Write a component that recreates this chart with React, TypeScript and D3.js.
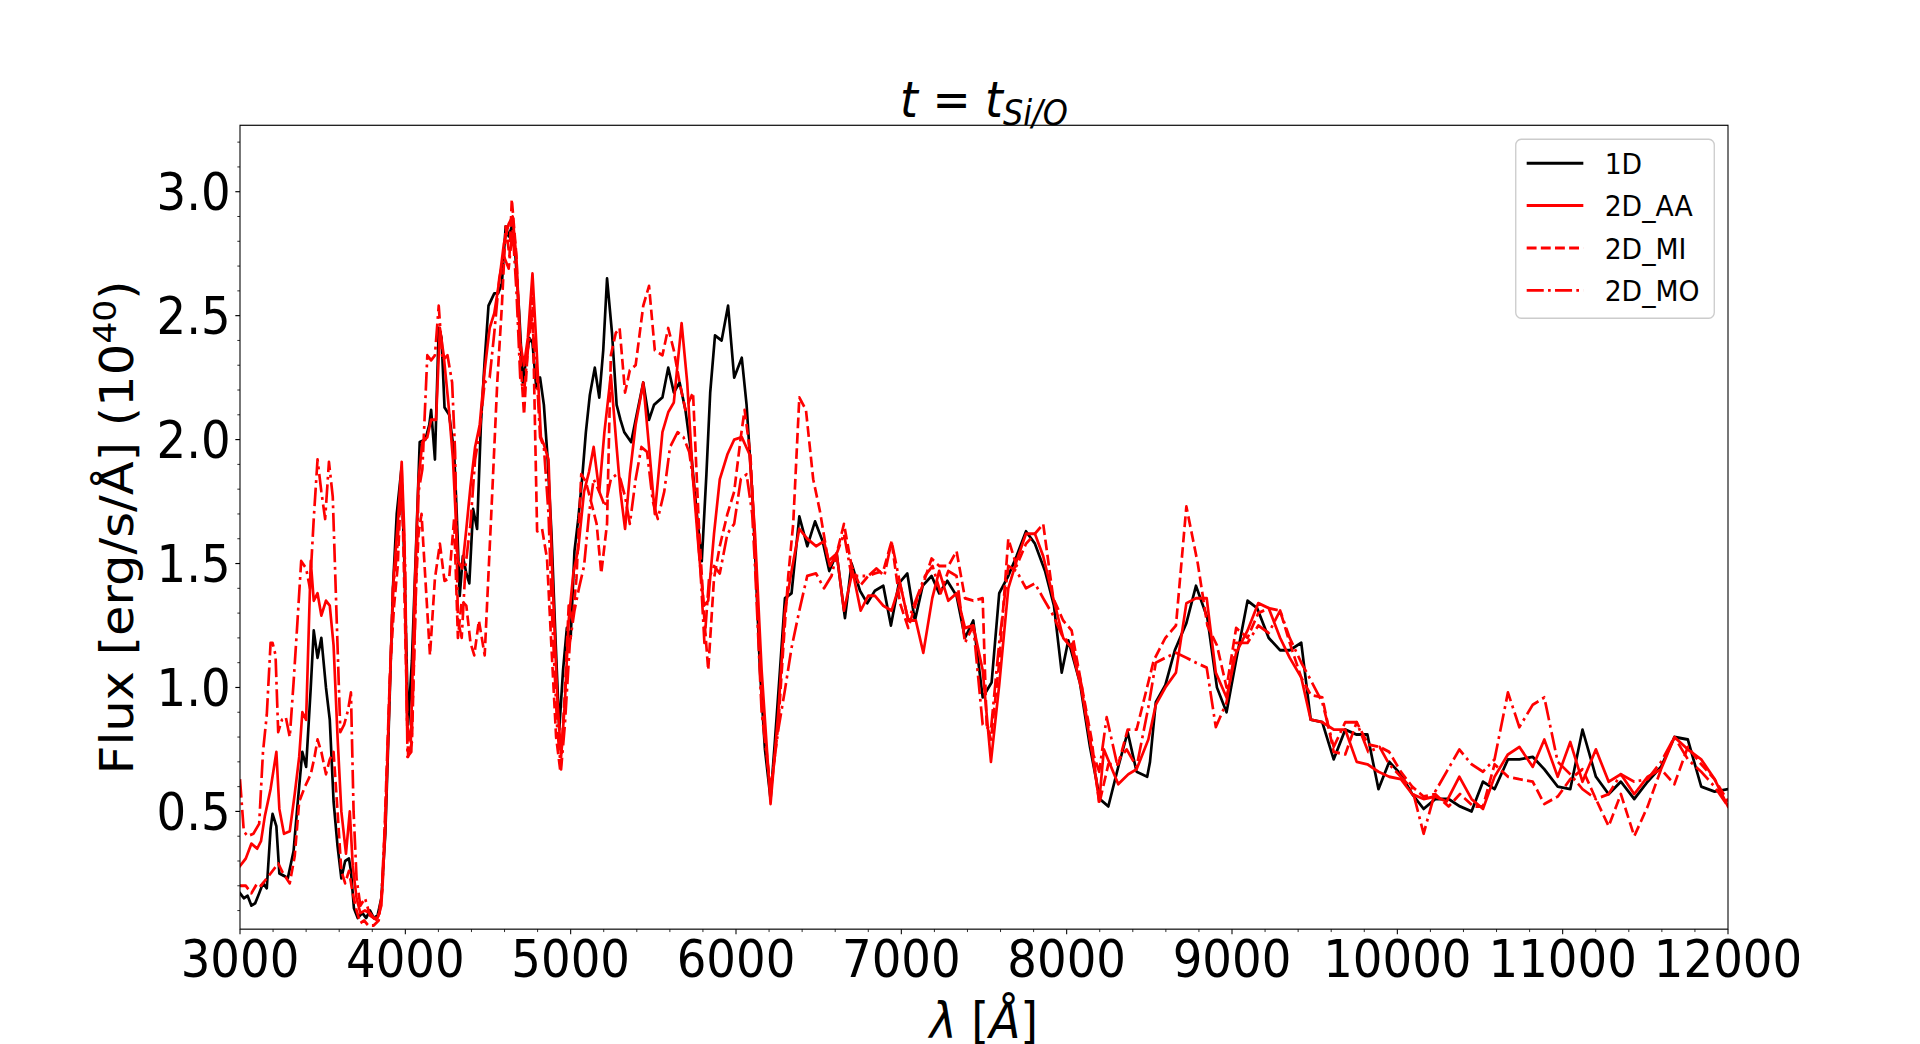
import React from 'react';
import * as d3 from 'd3';

// ---------- data ----------
const seriesNames = ['1D', '2D_AA', '2D_MI', '2D_MO'];
const xTickValues = [3000, 4000, 5000, 6000, 7000, 8000, 9000, 10000, 11000, 12000];
const xTickLabels = ['3000', '4000', '5000', '6000', '7000', '8000', '9000', '10000', '11000', '12000'];
const yTickValues = [0.5, 1.0, 1.5, 2.0, 2.5, 3.0];
const yTickLabels = ['0.5', '1.0', '1.5', '2.0', '2.5', '3.0'];
const xDomain = [3000, 12000];
const yDomain = [0.025, 3.268];

const flux1D: [number, number][] = [
  [3000,0.17],[3023,0.15],[3046,0.16],[3069,0.12],[3092,0.13],[3116,0.17],[3139,0.21],[3162,0.19],[3185,0.43],[3197,0.49],
  [3220,0.44],[3238,0.25],[3266,0.24],[3289,0.23],[3324,0.34],[3347,0.52],[3377,0.74],[3400,0.68],[3428,1.00],[3446,1.23],
  [3469,1.12],[3492,1.20],[3520,1.00],[3543,0.87],[3566,0.54],[3590,0.36],[3613,0.23],[3636,0.30],[3659,0.31],[3671,0.26],
  [3689,0.11],[3712,0.07],[3740,0.09],[3763,0.07],[3786,0.10],[3809,0.07],[3832,0.08],[3855,0.15],[3879,0.41],[3902,0.89],
  [3925,1.40],[3948,1.70],[3976,1.88],[3994,1.51],[4017,0.85],[4040,1.11],[4064,1.55],[4087,1.99],[4121,2.00],[4145,2.06],
  [4156,2.12],[4179,1.92],[4202,2.45],[4219,2.41],[4237,2.13],[4265,2.10],[4295,1.95],[4311,1.70],[4329,1.37],[4348,1.53],
  [4369,1.46],[4387,1.42],[4410,1.72],[4434,1.64],[4457,2.06],[4480,2.32],[4503,2.54],[4538,2.59],[4561,2.59],[4584,2.63],
  [4607,2.86],[4625,2.82],[4644,2.86],[4665,2.75],[4688,2.52],[4711,2.23],[4730,2.32],[4750,2.41],[4769,2.39],[4792,2.21],
  [4815,2.25],[4838,2.14],[4861,1.92],[4884,1.62],[4908,1.20],[4931,0.83],[4954,1.07],[4977,1.24],[5000,1.20],[5023,1.55],
  [5046,1.68],[5069,1.84],[5092,2.03],[5116,2.18],[5146,2.29],[5173,2.17],[5197,2.36],[5220,2.65],[5250,2.43],[5278,2.14],
  [5301,2.08],[5324,2.03],[5366,1.99],[5393,2.08],[5439,2.23],[5474,2.08],[5504,2.14],[5555,2.17],[5590,2.29],[5624,2.19],
  [5659,2.23],[5694,2.12],[5728,1.95],[5763,1.70],[5793,1.51],[5821,1.86],[5844,2.19],[5873,2.42],[5913,2.40],[5952,2.54],
  [5989,2.25],[6035,2.33],[6064,2.14],[6098,1.79],[6115,1.55],[6145,1.07],[6175,0.75],[6209,0.55],[6236,0.79],[6266,1.07],
  [6296,1.36],[6336,1.38],[6383,1.69],[6431,1.57],[6478,1.67],[6524,1.59],[6564,1.47],[6609,1.54],[6659,1.28],[6699,1.50],
  [6750,1.39],[6794,1.34],[6840,1.39],[6891,1.41],[6937,1.25],[6985,1.42],[7036,1.46],[7082,1.27],[7129,1.41],[7183,1.45],
  [7229,1.38],[7278,1.43],[7334,1.37],[7385,1.20],[7435,1.27],[7492,0.96],[7546,1.02],[7592,1.38],[7647,1.45],[7697,1.53],
  [7754,1.63],[7808,1.58],[7869,1.47],[7923,1.33],[7970,1.06],[8010,1.19],[8080,1.02],[8141,0.76],[8201,0.55],[8252,0.52],
  [8312,0.68],[8369,0.82],[8423,0.66],[8487,0.64],[8504,0.70],[8539,0.94],[8597,1.01],[8654,1.15],[8724,1.26],[8782,1.41],
  [8851,1.28],[8909,1.00],[8967,0.90],[9025,1.11],[9094,1.35],[9152,1.32],[9222,1.20],[9291,1.15],[9349,1.15],[9419,1.18],
  [9476,0.87],[9546,0.86],[9615,0.71],[9685,0.83],[9754,0.81],[9819,0.81],[9886,0.59],[9951,0.70],[10021,0.65],[10090,0.57],
  [10159,0.51],[10229,0.55],[10310,0.55],[10379,0.52],[10449,0.50],[10518,0.62],[10588,0.59],[10669,0.71],[10738,0.71],[10819,0.72],
  [10889,0.67],[10970,0.60],[11046,0.59],[11120,0.83],[11201,0.64],[11278,0.57],[11352,0.62],[11433,0.55],[11514,0.62],[11595,0.68],
  [11676,0.80],[11757,0.79],[11838,0.60],[11919,0.58],[12000,0.59],
];

const flux2DAA: [number, number][] = [
  [3000,0.28],[3035,0.31],[3069,0.37],[3104,0.35],[3127,0.38],[3150,0.48],[3185,0.59],[3220,0.74],[3238,0.51],[3266,0.41],
  [3301,0.42],[3331,0.57],[3358,0.72],[3377,0.90],[3400,0.87],[3428,1.51],[3446,1.35],[3469,1.38],[3492,1.29],[3520,1.35],
  [3543,1.33],[3566,1.17],[3590,0.80],[3613,0.50],[3641,0.33],[3664,0.50],[3682,0.28],[3705,0.15],[3728,0.09],[3756,0.10],
  [3786,0.09],[3809,0.07],[3832,0.07],[3855,0.12],[3879,0.43],[3902,0.94],[3929,1.44],[3954,1.66],[3978,1.91],[3994,1.62],
  [4010,0.85],[4033,0.78],[4057,1.40],[4080,1.84],[4103,1.99],[4133,2.01],[4156,2.08],[4186,2.08],[4209,2.45],[4232,2.34],
  [4260,2.15],[4288,1.92],[4318,1.51],[4344,1.48],[4369,1.64],[4394,1.81],[4422,1.97],[4450,2.06],[4480,2.28],[4510,2.45],
  [4538,2.51],[4568,2.64],[4596,2.79],[4625,2.87],[4649,2.90],[4672,2.73],[4695,2.39],[4718,2.30],[4741,2.41],[4769,2.67],
  [4792,2.39],[4820,2.01],[4838,1.98],[4866,1.92],[4889,1.46],[4919,0.96],[4942,0.72],[4965,0.94],[4988,1.27],[5016,1.46],
  [5046,1.56],[5081,1.79],[5111,1.87],[5139,1.97],[5173,1.79],[5204,2.03],[5243,2.26],[5278,1.97],[5301,1.79],[5329,1.64],
  [5358,1.86],[5393,2.06],[5439,2.23],[5474,1.97],[5509,1.70],[5555,2.03],[5590,2.11],[5624,2.15],[5671,2.47],[5705,2.23],
  [5740,1.84],[5775,1.55],[5805,1.33],[5832,1.35],[5867,1.62],[5902,1.84],[5948,1.94],[5989,2.00],[6035,2.01],[6082,1.94],
  [6115,1.62],[6155,1.07],[6209,0.53],[6256,0.90],[6296,1.31],[6336,1.47],[6383,1.64],[6431,1.60],[6484,1.57],[6532,1.59],
  [6568,1.49],[6609,1.54],[6653,1.31],[6705,1.47],[6754,1.31],[6800,1.37],[6840,1.37],[6891,1.33],[6941,1.31],[6992,1.42],
  [7042,1.27],[7088,1.27],[7133,1.14],[7187,1.36],[7229,1.47],[7284,1.35],[7334,1.38],[7385,1.24],[7435,1.25],[7492,1.07],
  [7542,0.70],[7592,1.01],[7647,1.40],[7697,1.51],[7754,1.62],[7808,1.62],[7858,1.53],[7919,1.36],[7979,1.20],[8030,1.16],
  [8090,0.99],[8151,0.75],[8197,0.54],[8225,0.75],[8312,0.61],[8373,0.65],[8423,0.67],[8494,0.79],[8539,0.93],[8597,1.00],
  [8661,1.06],[8724,1.34],[8782,1.36],[8847,1.36],[8902,1.06],[8967,0.96],[9025,1.14],[9094,1.23],[9159,1.34],[9222,1.32],
  [9291,1.20],[9349,1.12],[9419,1.04],[9476,0.87],[9546,0.86],[9615,0.83],[9685,0.83],[9754,0.70],[9819,0.69],[9886,0.66],
  [9951,0.64],[10021,0.63],[10090,0.57],[10159,0.55],[10229,0.56],[10298,0.54],[10375,0.64],[10449,0.55],[10518,0.51],[10588,0.64],
  [10669,0.73],[10738,0.76],[10819,0.68],[10889,0.79],[10970,0.64],[11046,0.78],[11120,0.62],[11201,0.75],[11278,0.62],[11352,0.65],
  [11433,0.57],[11514,0.64],[11595,0.67],[11676,0.80],[11757,0.75],[11838,0.71],[11919,0.63],[12000,0.52],
];

const flux2DMI: [number, number][] = [
  [3000,0.20],[3035,0.20],[3069,0.17],[3104,0.21],[3127,0.20],[3162,0.23],[3197,0.26],[3231,0.29],[3261,0.25],[3301,0.21],
  [3331,0.32],[3358,0.54],[3393,0.60],[3428,0.65],[3451,0.72],[3469,0.79],[3492,0.74],[3520,0.65],[3543,0.71],[3566,0.74],
  [3590,0.50],[3613,0.26],[3636,0.21],[3659,0.26],[3682,0.17],[3705,0.10],[3728,0.05],[3751,0.06],[3775,0.04],[3809,0.04],
  [3839,0.06],[3862,0.19],[3885,0.63],[3908,1.07],[3932,1.33],[3954,1.49],[3978,1.88],[4001,1.18],[4017,0.72],[4040,0.78],
  [4064,1.40],[4080,1.62],[4098,1.70],[4121,1.44],[4149,1.13],[4179,1.44],[4209,1.58],[4237,1.43],[4265,1.44],[4295,1.68],
  [4318,1.20],[4341,1.35],[4369,1.33],[4394,1.18],[4417,1.13],[4445,1.27],[4480,1.13],[4503,1.46],[4526,1.79],[4556,2.23],
  [4584,2.54],[4607,2.86],[4630,2.74],[4644,2.97],[4672,2.74],[4695,2.34],[4718,2.10],[4746,2.43],[4769,2.57],[4797,1.63],
  [4827,1.64],[4857,1.52],[4884,1.16],[4912,0.80],[4938,0.66],[4965,0.98],[4988,1.33],[5012,1.27],[5035,1.44],[5064,1.86],
  [5092,1.83],[5127,1.74],[5157,1.66],[5185,1.46],[5220,1.66],[5243,2.34],[5273,2.43],[5296,2.45],[5329,2.19],[5358,2.28],
  [5393,2.30],[5439,2.54],[5474,2.62],[5509,2.36],[5555,2.34],[5590,2.45],[5624,2.36],[5659,2.23],[5694,2.12],[5740,2.19],
  [5775,1.66],[5809,1.27],[5832,1.07],[5867,1.44],[5902,1.57],[5948,1.70],[5989,1.79],[6029,2.01],[6052,2.12],[6087,1.94],
  [6115,1.58],[6155,0.96],[6209,0.57],[6256,0.85],[6286,1.16],[6316,1.45],[6346,1.66],[6383,2.17],[6423,2.12],[6467,1.84],
  [6508,1.71],[6558,1.51],[6609,1.54],[6653,1.66],[6699,1.49],[6750,1.41],[6800,1.45],[6840,1.46],[6891,1.47],[6941,1.59],
  [6992,1.34],[7042,1.24],[7088,1.34],[7133,1.42],[7183,1.52],[7229,1.49],[7284,1.49],[7334,1.55],[7385,1.36],[7435,1.35],
  [7492,1.36],[7516,0.85],[7542,0.79],[7592,1.10],[7647,1.60],[7697,1.49],[7754,1.58],[7808,1.62],[7858,1.66],[7919,1.36],
  [7979,1.27],[8030,1.23],[8090,1.01],[8151,0.79],[8197,0.53],[8252,0.69],[8312,0.69],[8369,0.83],[8423,0.83],[8527,1.11],
  [8597,1.20],[8661,1.25],[8724,1.73],[8793,1.50],[8851,1.25],[8909,1.17],[8967,1.00],[9025,1.24],[9094,1.20],[9159,1.30],
  [9222,1.32],[9291,1.31],[9349,1.18],[9419,1.04],[9476,0.97],[9546,0.96],[9615,0.74],[9685,0.73],[9754,0.86],[9824,0.77],
  [9893,0.76],[9951,0.74],[10021,0.66],[10090,0.60],[10159,0.56],[10229,0.57],[10310,0.52],[10379,0.57],[10460,0.52],[10518,0.52],
  [10588,0.69],[10669,0.64],[10738,0.63],[10819,0.62],[10889,0.53],[10970,0.56],[11046,0.63],[11120,0.67],[11201,0.55],[11278,0.44],
  [11352,0.57],[11433,0.40],[11514,0.52],[11595,0.67],[11676,0.61],[11757,0.76],[11838,0.69],[11919,0.63],[12000,0.54],
];

const flux2DMO: [number, number][] = [
  [3000,0.63],[3023,0.42],[3046,0.40],[3081,0.41],[3116,0.45],[3139,0.74],[3162,0.89],[3185,1.18],[3197,1.18],[3215,1.13],
  [3231,0.82],[3254,0.87],[3277,0.88],[3301,0.80],[3324,1.02],[3347,1.26],[3370,1.51],[3400,1.48],[3423,1.40],[3446,1.68],
  [3469,1.92],[3492,1.79],[3515,1.68],[3538,1.91],[3561,1.77],[3584,1.29],[3607,0.82],[3630,0.85],[3654,0.91],[3671,0.98],
  [3687,0.50],[3705,0.23],[3728,0.12],[3756,0.15],[3786,0.08],[3809,0.07],[3832,0.06],[3855,0.15],[3879,0.48],[3902,0.91],
  [3925,1.40],[3948,1.53],[3976,1.84],[3999,1.49],[4013,0.72],[4036,0.74],[4059,1.27],[4080,1.79],[4103,1.88],[4133,2.34],
  [4156,2.32],[4179,2.34],[4202,2.54],[4225,2.32],[4255,2.34],[4283,2.23],[4301,1.95],[4318,1.27],[4341,1.20],[4364,1.49],
  [4394,1.66],[4422,1.92],[4445,2.01],[4480,2.23],[4510,2.25],[4538,2.43],[4568,2.65],[4596,2.74],[4625,2.69],[4649,2.85],
  [4672,2.60],[4695,2.25],[4718,2.19],[4741,2.36],[4764,2.49],[4792,2.30],[4815,2.01],[4838,1.97],[4866,1.70],[4889,1.27],
  [4919,0.83],[4942,0.67],[4965,0.85],[4995,1.18],[5023,1.31],[5050,1.40],[5081,1.49],[5111,1.70],[5139,1.84],[5173,1.79],
  [5208,1.73],[5243,1.84],[5278,1.86],[5301,1.84],[5329,1.77],[5358,1.66],[5393,1.84],[5428,1.97],[5462,1.95],[5497,1.75],
  [5527,1.68],[5566,1.79],[5601,1.97],[5647,2.03],[5682,2.01],[5717,1.95],[5751,1.79],[5786,1.46],[5809,1.18],[5837,1.44],
  [5867,1.49],[5902,1.46],[5948,1.62],[5989,1.66],[6029,1.84],[6064,1.86],[6098,1.70],[6115,1.49],[6155,0.90],[6209,0.59],
  [6256,0.83],[6296,0.99],[6336,1.16],[6383,1.31],[6431,1.45],[6484,1.46],[6532,1.40],[6578,1.45],[6609,1.54],[6653,1.62],
  [6699,1.45],[6750,1.45],[6800,1.45],[6850,1.48],[6897,1.45],[6941,1.59],[6992,1.42],[7042,1.27],[7092,1.36],[7143,1.45],
  [7189,1.49],[7238,1.38],[7284,1.47],[7334,1.45],[7385,1.18],[7435,1.25],[7492,0.85],[7542,0.83],[7592,1.18],[7647,1.49],
  [7697,1.47],[7754,1.40],[7808,1.42],[7858,1.36],[7919,1.29],[7979,1.20],[8030,1.18],[8090,1.01],[8151,0.75],[8197,0.66],
  [8242,0.88],[8302,0.70],[8363,0.75],[8423,0.68],[8494,0.92],[8539,1.10],[8597,1.12],[8661,1.14],[8724,1.12],[8782,1.10],
  [8847,1.08],[8902,0.84],[8967,0.94],[9025,1.18],[9094,1.18],[9159,1.25],[9222,1.22],[9291,1.31],[9349,1.20],[9419,1.10],
  [9476,1.03],[9546,0.94],[9615,0.76],[9685,0.86],[9754,0.86],[9824,0.74],[9893,0.76],[9951,0.69],[10021,0.64],[10090,0.59],
  [10159,0.41],[10229,0.58],[10298,0.66],[10375,0.75],[10449,0.69],[10518,0.66],[10588,0.71],[10669,0.98],[10738,0.84],[10819,0.93],
  [10889,0.96],[10970,0.70],[11046,0.65],[11120,0.59],[11201,0.55],[11278,0.57],[11352,0.65],[11433,0.62],[11514,0.63],[11595,0.70],
  [11676,0.80],[11757,0.71],[11838,0.66],[11919,0.60],[12000,0.52],
];

const seriesData = [flux1D, flux2DAA, flux2DMI, flux2DMO];
const seriesColors = ['#000000', '#ff0000', '#ff0000', '#ff0000'];

// ---------- layout (original figure space 2000x1000, stretched to 1920x1044) ----------
const VW = 2000;
const VH = 1000;
const AX_L = 250;
const AX_R = 1800;
const AX_T = 120;
const AX_B = 890;
const FONT = "'DejaVu Sans', 'Liberation Sans', sans-serif";
const TICK_FS = 48.6;
const LABEL_FS = 47.5;
const LEG_FS = 27.8;
const LW = 2.78;
const dashStyles = ['', '', `${3.7 * LW} ${1.6 * LW}`, `${6.4 * LW} ${1.6 * LW} ${1 * LW} ${1.6 * LW}`];

export default function App() {
  const x = d3.scaleLinear().domain(xDomain).range([AX_L, AX_R]);
  const y = d3.scaleLinear().domain(yDomain).range([AX_B, AX_T]);
  const line = d3
    .line<[number, number]>()
    .x((d) => x(d[0]))
    .y((d) => y(d[1]));

  const xMinor = d3.range(3000, 12001, 200).filter((v) => v % 1000 !== 0);
  const yMinor = d3
    .range(1, 33)
    .map((i) => i / 10)
    .filter((v) => Math.abs(v * 2 - Math.round(v * 2)) > 1e-6 && v >= yDomain[0] && v <= yDomain[1]);

  const legX = 1578.9;
  const legY = 133.4;
  const legW = 206.8;
  const legH = 171.5;
  const rowY = (i: number) => 156.3 + i * 40.6;

  return (
    <svg
      width={1920}
      height={1044}
      viewBox={`0 0 ${VW} ${VH}`}
      preserveAspectRatio="none"
      style={{ position: 'absolute', left: 0, top: 0, display: 'block', background: '#fff' }}
      fontFamily={FONT}
    >
      <rect x={0} y={0} width={VW} height={VH} fill="#fff" />
      <defs>
        <clipPath id="axclip">
          <rect x={AX_L} y={AX_T} width={AX_R - AX_L} height={AX_B - AX_T} />
        </clipPath>
      </defs>

      {/* data lines */}
      <g clipPath="url(#axclip)">
        {seriesData.map((data, i) => (
          <path
            key={seriesNames[i]}
            d={line(data) || ''}
            fill="none"
            stroke={seriesColors[i]}
            strokeWidth={LW}
            strokeDasharray={dashStyles[i] || undefined}
            strokeLinejoin="round"
            strokeLinecap={dashStyles[i] ? 'butt' : 'square'}
          />
        ))}
      </g>

      {/* spines */}
      <rect x={AX_L} y={AX_T} width={AX_R - AX_L} height={AX_B - AX_T} fill="none" stroke="#000" strokeWidth={1.11} />

      {/* x ticks */}
      {xTickValues.map((v, i) => (
        <g key={'xt' + v}>
          <line x1={x(v)} x2={x(v)} y1={AX_B} y2={AX_B + 4.86} stroke="#000" strokeWidth={1.11} />
          <text x={x(v)} y={935.5} textAnchor="middle" fontSize={TICK_FS} fill="#000">
            {xTickLabels[i]}
          </text>
        </g>
      ))}
      {xMinor.map((v) => (
        <line key={'xm' + v} x1={x(v)} x2={x(v)} y1={AX_B} y2={AX_B + 2.78} stroke="#000" strokeWidth={0.83} />
      ))}

      {/* y ticks */}
      {yTickValues.map((v, i) => (
        <g key={'yt' + v}>
          <line x1={AX_L - 4.86} x2={AX_L} y1={y(v)} y2={y(v)} stroke="#000" strokeWidth={1.11} />
          <text x={240.3} y={y(v) + 0.729 * TICK_FS / 2} textAnchor="end" fontSize={TICK_FS} fill="#000">
            {yTickLabels[i]}
          </text>
        </g>
      ))}
      {yMinor.map((v) => (
        <line key={'ym' + v} x1={AX_L - 2.78} x2={AX_L} y1={y(v)} y2={y(v)} stroke="#000" strokeWidth={0.83} />
      ))}

      {/* title */}
      <text x={(AX_L + AX_R) / 2} y={111.7} textAnchor="middle" fontSize={LABEL_FS} fill="#000">
        <tspan fontStyle="italic">t</tspan>
        <tspan>{' = '}</tspan>
        <tspan fontStyle="italic">t</tspan>
        <tspan fontStyle="italic" fontSize={LABEL_FS * 0.7} dy={8}>
          Si/O
        </tspan>
      </text>

      {/* x label */}
      <text x={(AX_L + AX_R) / 2} y={994} textAnchor="middle" fontSize={LABEL_FS} fill="#000">
        <tspan fontStyle="italic">λ</tspan>
        <tspan>{' ['}</tspan>
        <tspan fontStyle="italic">Å</tspan>
        <tspan>]</tspan>
      </text>

      {/* y label */}
      <text
        transform={`translate(139, ${(AX_T + AX_B) / 2}) rotate(-90)`}
        textAnchor="middle"
        fontSize={LABEL_FS}
        fill="#000"
      >
        <tspan>Flux [erg/s/Å] (10</tspan>
        <tspan fontSize={LABEL_FS * 0.7} dy={-18}>
          40
        </tspan>
        <tspan dy={18}>)</tspan>
      </text>

      {/* legend */}
      <rect
        x={legX}
        y={legY}
        width={legW}
        height={legH}
        rx={5.6}
        ry={5.6}
        fill="#fff"
        fillOpacity={0.8}
        stroke="#cccccc"
        strokeWidth={1.39}
      />
      {seriesNames.map((name, i) => (
        <g key={'leg' + name}>
          <line
            x1={1590.3}
            x2={1649.3}
            y1={rowY(i)}
            y2={rowY(i)}
            stroke={seriesColors[i]}
            strokeWidth={LW}
            strokeDasharray={dashStyles[i] || undefined}
          />
          <text x={1671.5} y={rowY(i) + 0.729 * LEG_FS / 2} fontSize={LEG_FS} fill="#000">
            {name}
          </text>
        </g>
      ))}
    </svg>
  );
}
